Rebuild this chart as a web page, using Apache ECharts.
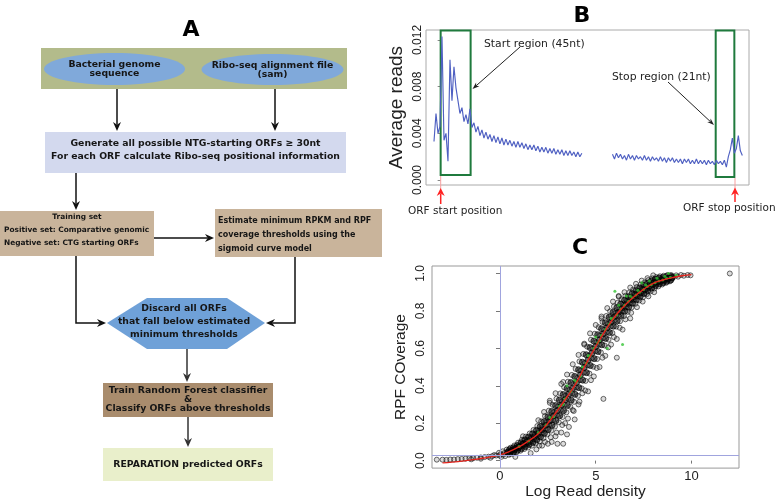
<!DOCTYPE html>
<html><head><meta charset="utf-8">
<script src="https://cdn.jsdelivr.net/npm/echarts@6/dist/echarts.min.js"></script>
<style>html,body{margin:0;padding:0;background:#fff}#c{width:778px;height:501px}</style>
</head><body><div id="c"></div>
<script>
// ---------- Panel B data (average reads around ORF start / stop) ----------
const startWindowFirstNt = -10;
const stopWindowFirstNt = 258;
const windowStepNt = 3;
const startWindowReads = [
  0.0033,0.0057,0.0040,0.0046,0.0123,0.0034,0.0040,0.0016,0.0103,0.0068,
  0.0097,0.0079,0.0068,0.0057,0.0062,0.0050,0.0056,0.0048,0.0061,0.0045,
  0.0049,0.0041,0.0046,0.0038,0.0043,0.0036,0.0041,0.0035,0.0039,0.0033,
  0.0038,0.0032,0.0037,0.0031,0.0036,0.0030,0.0035,0.0030,0.0034,0.0029,
  0.0033,0.0028,0.0033,0.0028,0.0032,0.0027,0.0031,0.0026,0.0030,0.0026,
  0.0030,0.0025,0.0029,0.0024,0.0028,0.0024,0.0028,0.0023,0.0027,0.0023,
  0.0027,0.0022,0.0026,0.0022,0.0026,0.0021,0.0025,0.0021,0.0025,0.0021,
  0.0024,0.0020,0.0024,0.0020,0.0023
];
const stopWindowReads = [
  0.0022,0.0018,0.0023,0.0019,0.0022,0.0018,0.0021,0.0017,0.0022,0.0018,
  0.0021,0.0017,0.0021,0.0018,0.0020,0.0017,0.0021,0.0017,0.0020,0.0016,
  0.0020,0.0017,0.0019,0.0016,0.0020,0.0016,0.0019,0.0015,0.0019,0.0016,
  0.0019,0.0015,0.0018,0.0015,0.0018,0.0014,0.0018,0.0015,0.0018,0.0014,
  0.0017,0.0014,0.0018,0.0014,0.0017,0.0014,0.0017,0.0013,0.0017,0.0014,
  0.0016,0.0013,0.0017,0.0014,0.0016,0.0013,0.0017,0.0011,0.0020,0.0026,
  0.0036,0.0023,0.0027,0.0038,0.0025,0.0021
];
const startRegionNt = [0, 45];
const stopRegionNt = [413, 441];
const readTicks = [0, 0.004, 0.008, 0.012];

// ---------- Panel C data (RPF coverage vs log read density) ----------
const densityTicks = [0, 5, 10];
const coverageTicks = [0, 0.2, 0.4, 0.6, 0.8, 1.0];
const thresholdDensity = 0;
const thresholdCoverage = 0.03;
const orfPoints = [
  [-3.3,0.005],[-3.0,0.005],[-2.8,0.004],[-2.6,0.006],[-2.4,0.006],[-2.2,0.008],[-2.0,0.009],[-1.8,0.010],
  [-1.6,0.012],[-1.4,0.013],[-1.2,0.015],[-1.0,0.017],[-0.8,0.019],[-0.6,0.021],[-0.4,0.024],[-0.2,0.027],
  [-1.5,0.007],[-1.0,0.010],[-0.5,0.015],[-0.3,0.030],
  [-0.05,0.042],[0.03,0.035],[-0.02,0.027],[0.07,0.020],
  [0.15,0.050],[0.23,0.041],[0.18,0.032],[0.27,0.024],
  [0.35,0.059],[0.43,0.050],[0.38,0.040],[0.47,0.031],
  [0.55,0.069],[0.63,0.058],[0.58,0.047],[0.67,0.037],
  [0.75,0.081],[0.83,0.069],[0.78,0.056],[0.87,0.045],
  [0.95,0.096],[1.03,0.081],[0.98,0.066],[1.07,0.053],
  [1.15,0.112],[1.23,0.095],[1.18,0.078],[1.27,0.062],
  [1.35,0.128],[1.43,0.109],[1.38,0.088],[1.47,0.070],
  [1.55,0.145],[1.63,0.124],[1.58,0.100],[1.67,0.080],
  [1.75,0.164],[1.83,0.140],[1.78,0.114],[1.87,0.092],
  [1.95,0.185],[2.03,0.158],[1.98,0.128],[2.07,0.103],
  [2.15,0.210],[2.23,0.180],[2.18,0.148],[2.27,0.120],
  [2.35,0.238],[2.43,0.205],[2.38,0.170],[2.47,0.140],
  [2.55,0.267],[2.63,0.231],[2.58,0.192],[2.67,0.160],
  [2.75,0.298],[2.83,0.260],[2.78,0.217],[2.87,0.182],
  [2.95,0.331],[3.03,0.289],[2.98,0.243],[3.07,0.205],
  [3.15,0.359],[3.23,0.317],[3.18,0.271],[3.27,0.233],
  [3.35,0.392],[3.43,0.347],[3.38,0.299],[3.47,0.258],
  [3.55,0.422],[3.63,0.378],[3.58,0.329],[3.67,0.288],
  [3.75,0.458],[3.83,0.410],[3.78,0.358],[3.87,0.314],
  [3.95,0.490],[4.03,0.442],[3.98,0.390],[4.07,0.346],
  [4.15,0.530],[4.23,0.482],[4.18,0.430],[4.27,0.386],
  [4.35,0.570],[4.43,0.522],[4.38,0.470],[4.47,0.426],
  [4.55,0.609],[4.63,0.561],[4.58,0.509],[4.67,0.465],
  [4.75,0.646],[4.83,0.598],[4.78,0.546],[4.87,0.502],
  [4.95,0.678],[5.03,0.633],[4.98,0.584],[5.07,0.543],
  [5.15,0.713],[5.23,0.668],[5.18,0.619],[5.27,0.578],
  [5.35,0.741],[5.43,0.699],[5.38,0.654],[5.47,0.615],
  [5.55,0.773],[5.63,0.731],[5.58,0.686],[5.67,0.647],
  [5.75,0.798],[5.83,0.760],[5.78,0.717],[5.87,0.682],
  [5.95,0.824],[6.03,0.788],[5.98,0.749],[6.07,0.716],
  [6.15,0.844],[6.23,0.810],[6.18,0.775],[6.27,0.745],
  [6.35,0.862],[6.43,0.832],[6.38,0.800],[6.47,0.772],
  [6.55,0.881],[6.63,0.852],[6.58,0.821],[6.67,0.795],
  [6.75,0.898],[6.83,0.872],[6.78,0.842],[6.87,0.818],
  [6.95,0.914],[7.03,0.889],[6.98,0.861],[7.07,0.838],
  [7.15,0.928],[7.23,0.904],[7.18,0.878],[7.27,0.856],
  [7.35,0.941],[7.43,0.918],[7.38,0.894],[7.47,0.873],
  [7.55,0.952],[7.63,0.931],[7.58,0.909],[7.67,0.890],
  [7.75,0.965],[7.83,0.945],[7.78,0.923],[7.87,0.905],
  [7.95,0.974],[8.03,0.956],[7.98,0.937],[8.07,0.920],
  [8.15,0.981],[8.23,0.964],[8.18,0.946],[8.27,0.931],
  [8.35,0.985],[8.43,0.970],[8.38,0.954],[8.47,0.941],
  [8.55,0.988],[8.63,0.975],[8.58,0.960],[8.67,0.950],
  [8.75,0.992],[8.83,0.980],[8.78,0.967],[8.87,0.958],
  [8.95,0.991],[9.03,0.983],[8.98,0.973],
  [9.20,0.990],[9.30,0.983],[9.45,0.992],[9.60,0.988],[9.80,0.992],[9.95,0.990],
  [1.6,0.040],[1.9,0.060],[2.2,0.080],[2.5,0.090],[2.7,0.100],[3.0,0.090],[3.3,0.090],[2.9,0.130],
  [3.2,0.150],[3.5,0.140],[3.6,0.180],[3.4,0.200],[3.9,0.220],[3.8,0.270],[4.1,0.300],[4.3,0.360],
  [4.6,0.370],[5.4,0.330],[4.9,0.450],[5.2,0.500],[5.5,0.560],[6.1,0.550],[6.1,0.650],[5.8,0.620],
  [6.4,0.700],[6.8,0.760],[12.0,1.000],[2.6,0.320],[3.3,0.420],[4.4,0.620],[5.3,0.760],[6.2,0.880],
  [1.2,0.130],[0.8,0.020],
  [2.0,0.216],[2.05,0.080],[2.3,0.260],[2.35,0.100],[2.6,0.309],[2.65,0.125],[2.9,0.360],[2.95,0.150],
  [3.2,0.410],[3.25,0.190],[3.5,0.460],[3.55,0.225],[3.8,0.515],[3.85,0.265],[4.1,0.565],[4.15,0.315],
  [4.4,0.625],[4.45,0.375],[4.7,0.680],[4.75,0.430],[5.0,0.725],[5.05,0.495],[5.3,0.770],[5.35,0.550],
  [5.6,0.815],[5.65,0.605],[5.9,0.850],[5.95,0.660],[6.2,0.876],[6.25,0.710],[6.5,0.900],[6.55,0.755],
  [6.8,0.925],[6.85,0.790],[7.1,0.945],[7.15,0.820],[7.4,0.962],[7.45,0.850],[7.7,0.975],[7.75,0.878],
  [8.0,0.990],[8.05,0.900]
];
const coreOrfPoints = [
  [0.5,0.059],[0.52,0.039],[0.7,0.069],[0.72,0.047],[0.9,0.081],[0.92,0.055],[1.1,0.096],[1.12,0.064],
  [1.3,0.111],[1.32,0.075],[1.5,0.126],[1.52,0.086],[1.7,0.143],[1.72,0.097],[1.9,0.161],[1.92,0.111],
  [2.1,0.182],[2.12,0.126],[2.3,0.208],[2.32,0.146],[2.5,0.234],[2.52,0.166],[2.7,0.263],[2.72,0.189],
  [2.9,0.294],[2.92,0.214],[3.1,0.324],[3.12,0.240],[3.3,0.353],[3.32,0.267],[3.5,0.385],[3.52,0.295],
  [3.7,0.417],[3.72,0.323],[3.9,0.450],[3.92,0.354],[4.1,0.486],[4.12,0.390],[4.3,0.526],[4.32,0.430],
  [4.5,0.566],[4.52,0.470],[4.7,0.604],[4.72,0.508],[4.9,0.639],[4.92,0.545],[5.1,0.673],[5.12,0.583],
  [5.3,0.705],[5.32,0.619],[5.5,0.737],[5.52,0.653],[5.7,0.766],[5.72,0.684],[5.9,0.792],[5.92,0.718],
  [6.1,0.817],[6.12,0.747],[6.3,0.837],[6.32,0.775],[6.5,0.857],[6.52,0.799],[6.7,0.876],[6.72,0.820],
  [6.9,0.893],[6.92,0.841],[7.1,0.909],[7.12,0.859],[7.3,0.923],[7.32,0.877],[7.5,0.937],[7.52,0.893],
  [7.7,0.948],[7.72,0.908],[7.9,0.960],[7.92,0.922],[8.1,0.969],[8.12,0.935],[8.3,0.976],[8.32,0.944],
  [8.5,0.979],[8.52,0.951],[8.7,0.984],[8.72,0.958],[8.9,0.987],[8.92,0.965],
  [0.4,0.045],[0.6,0.053],[0.8,0.063],[1.0,0.074],[1.2,0.087],[1.4,0.099],[1.6,0.113],[1.8,0.128],
  [2.0,0.144],[2.2,0.165],[2.4,0.189],[2.6,0.213],[2.8,0.240],[3.0,0.268],[3.2,0.296],[3.4,0.325],
  [3.6,0.355],[3.8,0.386],[4.0,0.418],[4.2,0.458],[4.4,0.498],[4.6,0.537],[4.8,0.574],[5.0,0.610],
  [5.2,0.645],[5.4,0.678],[5.6,0.710],[5.8,0.740],[6.0,0.770],[6.2,0.794],[6.4,0.817],[6.6,0.838],
  [6.8,0.858],[7.0,0.876],[7.2,0.892],[7.4,0.907],[7.6,0.921],[7.8,0.935],[8.0,0.947],[8.2,0.956],
  [8.4,0.963],[8.6,0.968],[8.8,0.974],[9.0,0.978]
];
const topOrfPoints = [
  [1.0,0.075],[1.5,0.105],[2.0,0.150],[2.4,0.190],[2.8,0.235],[3.1,0.290],[3.4,0.330],[3.7,0.370],
  [4.0,0.420],[4.2,0.450],[4.5,0.520],[4.7,0.560],[4.9,0.600],[5.1,0.630],[5.3,0.670],[5.5,0.700],
  [5.7,0.730],[5.9,0.760],[6.1,0.780],[6.3,0.810],[6.5,0.830],[6.7,0.850],[6.9,0.870],[7.1,0.885],
  [7.3,0.900],[7.5,0.915],[7.7,0.930],[7.9,0.940],[8.1,0.950],[8.3,0.960],[8.5,0.965],[8.7,0.975],
  [8.9,0.980],[9.2,0.990],[6.0,0.905],[6.4,0.620],[5.6,0.600],[7.4,0.950],[8.8,1.000],[3.5,0.400],
  [4.3,0.500],[5.0,0.660],[6.6,0.880],[7.8,0.960],[2.6,0.230],[3.3,0.300],[3.9,0.430],[4.6,0.560],
  [5.2,0.640],[5.8,0.760],[6.2,0.830],[6.8,0.880],[7.2,0.910],[7.6,0.940],[8.2,0.975],[8.6,0.985]
];
const fitDensity = [-3,-2.5,-2,-1.5,-1,-0.5,0,0.5,1,1.5,2,2.5,3,3.5,4,4.5,5,5.5,6,6.5,7,7.5,8,8.5,9,9.5,10];
const fitCoverage = [-0.012,-0.008,-0.003,0.004,0.011,0.020,0.031,0.049,0.074,0.106,0.144,0.200,0.268,0.340,0.418,0.518,0.610,0.695,0.770,0.828,0.876,0.915,0.947,0.965,0.978,0.988,0.994];

// ---------- Panel A text ----------
const inputLabels = ['Bacterial genome\nsequence', 'Ribo-seq alignment file\n(sam)'];
const generateLabel = 'Generate all possible NTG-starting ORFs \u2265 30nt\nFor each ORF calculate Ribo-seq positional information';
const trainingTitle = 'Training set';
const trainingLines = 'Positive set: Comparative genomic\nNegative set: CTG starting ORFs';
const estimateLabel = 'Estimate minimum RPKM and RPF\ncoverage thresholds using the\nsigmoid curve model';
const discardLabel = 'Discard all ORFs\nthat fall below estimated\nminimum thresholds';
const classifyLabel = 'Train Random Forest classifier\n&\nClassify ORFs above thresholds';
const resultLabel = 'REPARATION predicted ORFs';
const panelLetters = ['A', 'B', 'C'];

// ---------- helpers ----------
const FL = '"DejaVu Sans", Verdana, sans-serif';
const AR = '"Liberation Sans", Arial, Helvetica, sans-serif';
function txt(x, y, text, font, extra) {
  return {type: 'text', x: x, y: y, z: 20, silent: true,
    style: Object.assign({text: text, font: font, fill: '#161616', align: 'center', verticalAlign: 'middle'}, extra || {})};
}
function rect(x, y, w, h, fill) {
  return {type: 'rect', shape: {x: x, y: y, width: w, height: h}, style: {fill: fill}, z: 5, silent: true};
}
function arrow(pts, color, w, len, half) {
  const n = pts.length, a = pts[n - 2], b = pts[n - 1];
  const dx = b[0] - a[0], dy = b[1] - a[1], L = Math.hypot(dx, dy), ux = dx / L, uy = dy / L, px = -uy, py = ux;
  const bx = b[0] - ux * len, by = b[1] - uy * len;
  const nx = b[0] - ux * len * 0.7, ny = b[1] - uy * len * 0.7;
  const linePts = pts.slice(0, n - 1).concat([[nx, ny]]);
  return [
    {type: 'polyline', z: 15, silent: true, shape: {points: linePts}, style: {stroke: color, lineWidth: w, fill: null}},
    {type: 'polygon', z: 16, silent: true, shape: {points: [[b[0], b[1]], [bx + px * half, by + py * half], [nx, ny], [bx - px * half, by - py * half]]}, style: {fill: color}}
  ];
}

const F93 = 'bold 9.3px ' + FL;
let g = [];
// Panel A boxes
g.push(rect(41, 48, 306, 41, '#b3bb8b'));
g.push({type: 'ellipse', z: 6, silent: true, shape: {cx: 114.5, cy: 69, rx: 70.5, ry: 16}, style: {fill: '#80a9da'}});
g.push({type: 'ellipse', z: 6, silent: true, shape: {cx: 272.5, cy: 69.5, rx: 71, ry: 15.5}, style: {fill: '#80a9da'}});
g.push(txt(114.5, 69, inputLabels[0], F93, {lineHeight: 9.5}));
g.push(txt(272.5, 70.5, inputLabels[1], F93, {lineHeight: 9}));
g.push(rect(45, 132, 301, 41, '#d3d9ee'));
g.push(txt(195.5, 150.5, generateLabel, F93, {lineHeight: 13}));
g.push(rect(0, 211, 154, 45, '#c9b49b'));
g.push(txt(77, 217.5, trainingTitle, 'bold 7.4px ' + FL));
g.push(txt(4, 236.5, trainingLines, 'bold 7.4px ' + FL, {align: 'left', lineHeight: 13}));
g.push(rect(215, 209, 167, 48, '#c9b49b'));
g.push(txt(218, 235, estimateLabel, 'bold 8px ' + FL, {align: 'left', lineHeight: 14}));
g.push({type: 'polygon', z: 5, silent: true, shape: {points: [[107, 323], [147, 298], [227, 298], [265, 323], [227, 349], [147, 349]]}, style: {fill: '#6fa1d8'}});
g.push(txt(184, 321.5, discardLabel, F93, {lineHeight: 13.2}));
g.push(rect(103, 383, 170, 34, '#a98c6d'));
g.push(txt(188, 399.7, classifyLabel, F93, {lineHeight: 8.7}));
g.push(rect(103, 448, 170, 33, '#e9efcb'));
g.push(txt(188, 464.5, resultLabel, F93));
// Panel A arrows
const K = '#111';
g = g.concat(arrow([[117, 89], [117, 131]], K, 1.5, 9, 4));
g = g.concat(arrow([[275, 89], [275, 131]], K, 1.5, 9, 4));
g = g.concat(arrow([[76, 173], [76, 210]], K, 1.5, 9, 4));
g = g.concat(arrow([[154, 238], [214, 238]], K, 1.5, 9, 4));
g = g.concat(arrow([[76, 256], [76, 323], [106, 323]], K, 1.5, 9, 4));
g = g.concat(arrow([[295, 257], [295, 323], [266, 323]], K, 1.5, 9, 4));
g = g.concat(arrow([[187, 349], [187, 382]], '#333', 1.5, 9, 4));
g = g.concat(arrow([[188, 417], [188, 447]], '#333', 1.5, 9, 4));
// Panel letters
g.push(txt(191, 30, panelLetters[0], 'bold 22px ' + FL, {fill: '#000'}));
g.push(txt(582, 16, panelLetters[1], 'bold 22px ' + FL, {fill: '#000'}));
g.push(txt(580, 248, panelLetters[2], 'bold 22px ' + FL, {fill: '#000'}));
// Panel B annotations
const AF = '10.8px ' + FL;
const OF = '10.5px ' + FL;
g.push(txt(484, 44, 'Start region (45nt)', AF, {align: 'left', fill: '#222'}));
g.push(txt(612, 77, 'Stop region (21nt)', AF, {align: 'left', fill: '#222'}));
g = g.concat(arrow([[520, 47], [472.5, 89]], '#222', 1, 7, 2.5));
g = g.concat(arrow([[668, 82], [714, 125]], '#222', 1, 7, 2.5));
g.push({type: 'line', z: 14, silent: true, shape: {x1: 440.7, y1: 176, x2: 440.7, y2: 189}, style: {stroke: '#f7a0a0', lineWidth: 1}});
g.push({type: 'line', z: 14, silent: true, shape: {x1: 735, y1: 178, x2: 735, y2: 189}, style: {stroke: '#f7a0a0', lineWidth: 1}});
g = g.concat(arrow([[440.7, 204], [440.7, 188]], '#ff2222', 1.5, 8, 4));
g = g.concat(arrow([[735, 202], [735, 187.5]], '#ff2222', 1.5, 8, 4));
g.push(txt(408, 211, 'ORF start position', OF, {align: 'left', fill: '#222'}));
g.push(txt(683, 208, 'ORF stop position', OF, {align: 'left', fill: '#222'}));

const chart = echarts.init(document.getElementById('c'), null, {renderer: 'canvas'});
const startData = startWindowReads.map((v, i) => [startWindowFirstNt + windowStepNt * i, v]);
const stopData = stopWindowReads.map((v, i) => [stopWindowFirstNt + windowStepNt * i, v]);
const fitData = fitDensity.map((x, i) => [x, fitCoverage[i]]);

chart.setOption({
  animation: false,
  backgroundColor: '#fff',
  grid: [
    {left: 426, top: 30, width: 323, height: 155, show: true, borderColor: '#aaa', borderWidth: 1, backgroundColor: 'transparent'},
    {left: 432, top: 266, width: 307, height: 203, show: true, borderColor: '#999', borderWidth: 1, backgroundColor: 'transparent'}
  ],
  xAxis: [
    {gridIndex: 0, type: 'value', min: -22, max: 463, show: false},
    {gridIndex: 1, type: 'value', min: -3.55, max: 12.48,
      axisLine: {show: false}, splitLine: {show: false},
      axisTick: {show: true, length: 3, customValues: densityTicks, lineStyle: {color: '#777'}},
      axisLabel: {customValues: densityTicks, margin: 2, fontSize: 13, color: '#222', fontFamily: AR},
      name: 'Log Read density', nameLocation: 'middle', nameGap: 5,
      nameTextStyle: {fontSize: 15.5, color: '#222', fontFamily: AR}}
  ],
  yAxis: [
    {gridIndex: 0, type: 'value', min: -0.000428, max: 0.012853,
      axisLine: {show: false}, splitLine: {show: false},
      axisTick: {show: true, length: 3, customValues: readTicks, lineStyle: {color: '#888'}},
      axisLabel: {customValues: readTicks, rotate: 90, margin: 2, fontSize: 12, color: '#222', fontFamily: AR,
        formatter: v => v.toFixed(3)},
      name: 'Average reads', nameLocation: 'middle', nameRotate: 90, nameGap: 20,
      nameTextStyle: {fontSize: 19, color: '#222', fontFamily: AR}},
    {gridIndex: 1, type: 'value', min: -0.04, max: 1.04,
      axisLine: {show: false}, splitLine: {show: false},
      axisTick: {show: true, length: 4, customValues: coverageTicks, lineStyle: {color: '#777'}},
      axisLabel: {customValues: coverageTicks, rotate: 90, margin: 5, fontSize: 12, color: '#222', fontFamily: AR,
        formatter: v => v.toFixed(1)},
      name: 'RPF COverage', nameLocation: 'middle', nameRotate: 90, nameGap: 23,
      nameTextStyle: {fontSize: 15.5, color: '#222', fontFamily: AR}}
  ],
  series: [
    {type: 'line', xAxisIndex: 0, yAxisIndex: 0, data: startData, showSymbol: false, silent: true,
      lineStyle: {color: '#4f60c2', width: 1.15},
      markArea: {silent: true, itemStyle: {color: 'rgba(0,0,0,0)', borderColor: '#1f7a3d', borderWidth: 2},
        data: [[{coord: [startRegionNt[0], 0.00043]}, {coord: [startRegionNt[1], 0.0128]}],
               [{coord: [stopRegionNt[0], 0.00026]}, {coord: [stopRegionNt[1], 0.0128]}]]}},
    {type: 'line', xAxisIndex: 0, yAxisIndex: 0, data: stopData, showSymbol: false, silent: true,
      lineStyle: {color: '#4f60c2', width: 1.15}},
    {type: 'scatter', xAxisIndex: 1, yAxisIndex: 1, data: orfPoints, symbol: 'circle', symbolSize: 5, silent: true,
      itemStyle: {color: 'rgba(40,40,40,0.2)', borderColor: '#1a1a1a', borderWidth: 0.8},
      markLine: {silent: true, symbol: 'none', label: {show: false},
        lineStyle: {color: '#a0a4de', width: 1, type: 'solid'},
        data: [{xAxis: thresholdDensity}, {yAxis: thresholdCoverage}]}},
    {type: 'scatter', xAxisIndex: 1, yAxisIndex: 1, data: coreOrfPoints, symbol: 'circle', symbolSize: 6, silent: true,
      itemStyle: {color: 'rgba(0,0,0,0.7)', borderColor: '#000', borderWidth: 0.8}},
    {type: 'scatter', xAxisIndex: 1, yAxisIndex: 1, data: topOrfPoints, symbol: 'circle', symbolSize: 3, silent: true,
      itemStyle: {color: '#35c435'}},
    {type: 'line', xAxisIndex: 1, yAxisIndex: 1, data: fitData, showSymbol: false, smooth: true, silent: true,
      lineStyle: {color: '#e4241c', width: 1.4}}
  ],
  graphic: {elements: g}
});
</script>
</body></html>
